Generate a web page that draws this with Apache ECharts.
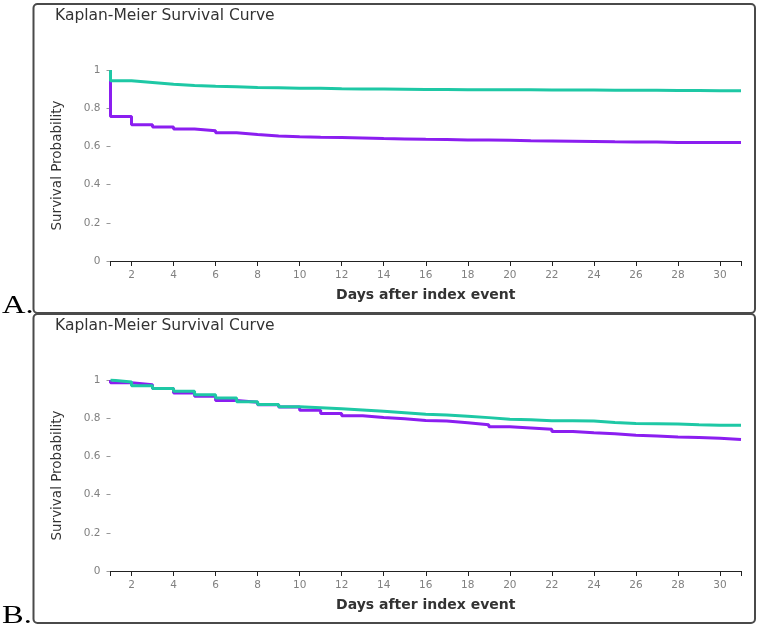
<!DOCTYPE html>
<html>
<head>
<meta charset="utf-8">
<script src="https://cdn.jsdelivr.net/npm/echarts@6/dist/echarts.min.js"></script>
<style>
html,body{margin:0;padding:0;background:#fff;}
#chart{width:761px;height:628px;}
</style>
</head>
<body>
<div id="chart"></div>
<script>
// ---- data ----
const days = [1,2,3,4,5,6,7,8,9,10,11,12,13,14,15,16,17,18,19,20,21,22,23,24,25,26,27,28,29,30,31];
const xTickLabels = [2,4,6,8,10,12,14,16,18,20,22,24,26,28,30];
const panelTitle = "Kaplan-Meier Survival Curve";
const xAxisTitle = "Days after index event";
const yAxisTitle = "Survival Probability";
const panelLabels = ["A.", "B."];

// Panel A
const aTeal = [0.944,0.935,0.925,0.919,0.915,0.912,0.909,0.907,0.905,0.904,0.902,0.901,0.900,0.899,0.898,0.898,0.897,0.897,0.896,0.896,0.895,0.895,0.895,0.894,0.894,0.894,0.893,0.893,0.892,0.892,0.892];
const aPurple = [0.757,0.714,0.702,0.691,0.682,0.671,0.662,0.655,0.651,0.648,0.646,0.644,0.641,0.639,0.637,0.636,0.634,0.633,0.632,0.629,0.628,0.627,0.626,0.624,0.623,0.623,0.621,0.621,0.620,0.620,0.620];
// Panel B
const bTeal = [0.990,0.970,0.955,0.941,0.923,0.906,0.886,0.872,0.860,0.855,0.850,0.843,0.836,0.829,0.821,0.817,0.810,0.803,0.795,0.792,0.787,0.786,0.785,0.777,0.772,0.771,0.770,0.766,0.763,0.763,0.763];
const bPurple = [0.985,0.975,0.956,0.932,0.915,0.893,0.884,0.871,0.858,0.842,0.825,0.813,0.804,0.797,0.788,0.785,0.776,0.766,0.755,0.749,0.742,0.731,0.724,0.719,0.711,0.707,0.702,0.699,0.695,0.688,0.688];

const TEAL = '#1ec8a5';
const PURPLE = '#8b1ef0';
const FONT = '"DejaVu Sans", Roboto, sans-serif';

function km(vals){
  const out = [[days[0], 1]];
  days.forEach((d,i)=>out.push([d, vals[i]]));
  return out;
}

const chart = echarts.init(document.getElementById('chart'), null, {renderer:'canvas'});

const panelTop = [0, 310];
const grids = panelTop.map(o => ({left:110.5, top:70+o, width:630.5, height:191, containLabel:false}));

function xAxis(i){
  return {
    gridIndex:i, type:'value', min:1, max:31,
    name:xAxisTitle, nameLocation:'middle', nameGap:27, nameMoveOverlap:false,
    nameTextStyle:{color:'#333', fontSize:14, fontWeight:'bold', fontFamily:FONT},
    axisLine:{show:true, lineStyle:{color:'#222', width:1}},
    axisTick:{show:true, inside:false, length:5, lineStyle:{color:'#222', width:1},
      customValues:[1].concat(xTickLabels, [31])},
    axisLabel:{show:true, customValues:xTickLabels, color:'#808080', fontSize:10.5, fontFamily:FONT, margin:9},
    splitLine:{show:false}
  };
}
function yAxis(i){
  return {
    gridIndex:i, type:'value', min:0, max:1, interval:0.2,
    name:yAxisTitle, nameLocation:'middle', nameGap:46, nameRotate:90, nameMoveOverlap:false,
    nameTextStyle:{color:'#333', fontSize:13.5, fontFamily:FONT},
    axisLine:{show:false},
    axisTick:{show:true, length:4, lineStyle:{color:'#999', width:1}},
    axisLabel:{color:'#808080', fontSize:10.5, fontFamily:FONT, margin:10},
    splitLine:{show:false}
  };
}

function line(data, color, gi){
  return {type:'line', step:'end', data:km(data), xAxisIndex:gi, yAxisIndex:gi,
    showSymbol:false, symbol:'none', silent:true, animation:false,
    lineStyle:{color:color, width:3}, itemStyle:{color:color}};
}

const graphics = [];
panelTop.forEach((o,i)=>{
  graphics.push({type:'rect', z:-1, shape:{x:33.5, y:4+o, width:721.5, height:309, r:4},
    style:{fill:'#fff', stroke:'#4a4a4a', lineWidth:2}});
  graphics.push({type:'text', x:2, y:293+o, scaleX:1.25,
    style:{text:panelLabels[i], font:'26px "Liberation Serif", "DejaVu Serif", serif', fill:'#000'}});
});

chart.setOption({
  animation:false,
  backgroundColor:'#fff',
  title: panelTop.map(o=>({text:panelTitle, left:50, top:3+o,
    textStyle:{color:'#333', fontSize:15.5, fontWeight:'normal', fontFamily:FONT}})),
  grid: grids,
  xAxis: [xAxis(0), xAxis(1)],
  yAxis: [yAxis(0), yAxis(1)],
  series: [line(aPurple, PURPLE, 0), line(aTeal, TEAL, 0), line(bPurple, PURPLE, 1), line(bTeal, TEAL, 1)],
  graphic: graphics
});
</script>
</body>
</html>
